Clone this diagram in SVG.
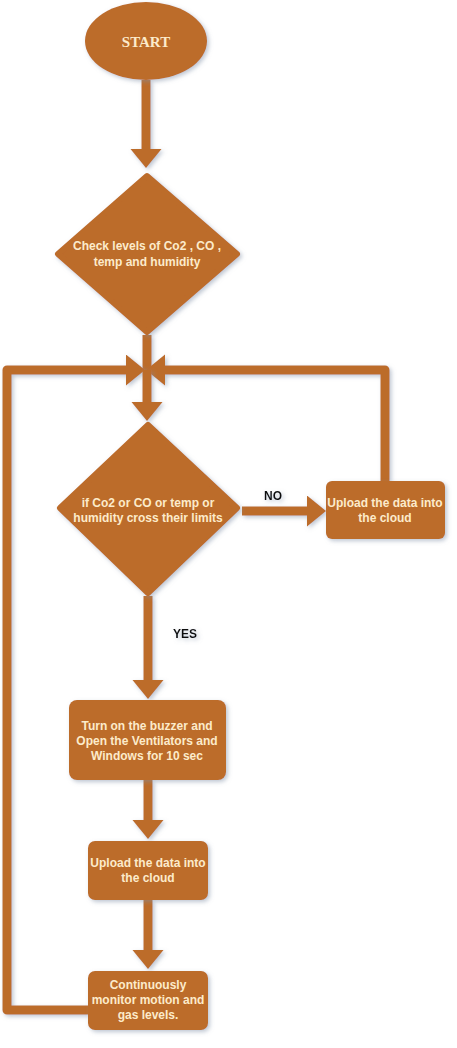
<svg xmlns="http://www.w3.org/2000/svg" width="457" height="1048" viewBox="0 0 457 1048">
<defs>
<filter id="sh" filterUnits="userSpaceOnUse" x="-10" y="-10" width="480" height="1070">
<feDropShadow dx="2" dy="2" stdDeviation="2" flood-color="#7f8fa6" flood-opacity="0.5"/>
</filter>
<marker id="ah" markerUnits="userSpaceOnUse" markerWidth="20" markerHeight="32" refX="0" refY="15.5" orient="auto">
<path d="M0,0 L19,15.5 L0,31 Z" fill="#BC6C2C"/>
</marker>
</defs>
<style>
.n{fill:#BC6C2C;filter:url(#sh)}
.d{fill:#BC6C2C;stroke:#BC6C2C;stroke-width:6;stroke-linejoin:round;filter:url(#sh)}
.t{font-family:"Liberation Sans",Arial,sans-serif;font-weight:bold;font-size:12px;fill:#FCEBCB;text-anchor:middle}
.l{font-family:"Liberation Sans",Arial,sans-serif;font-weight:bold;font-size:12px;fill:#111;text-anchor:middle;filter:url(#sh)}
.c{fill:none;stroke:#BC6C2C;stroke-width:9;stroke-linejoin:round;filter:url(#sh)}
</style>
<g id="connectors">
<path class="c" d="M146,80 V149" marker-end="url(#ah)"/>
<path class="c" d="M147,335 V370"/>
<path class="c" d="M88,1010 H7 V370 H126" marker-end="url(#ah)"/>
<path class="c" d="M385,481 V370 H165" marker-end="url(#ah)"/>
<path class="c" d="M147,370 V402" marker-end="url(#ah)"/>
<path class="c" d="M242,511 H307" marker-end="url(#ah)"/>
<path class="c" d="M148,596 V680" marker-end="url(#ah)"/>
<path class="c" d="M148,780 V820" marker-end="url(#ah)"/>
<path class="c" d="M148,900 V950" marker-end="url(#ah)"/>
<text class="l" x="273" y="500">NO</text>
<text class="l" x="185" y="638">YES</text>
</g>
<g id="start">
<ellipse class="n" cx="146" cy="41" rx="61" ry="39"/>
<text x="146" y="47" style="font-family:'Liberation Serif','Times New Roman',serif;font-weight:bold;font-size:15px;fill:#FCEBCB;text-anchor:middle">START</text>
</g>
<g id="check">
<polygon class="d" points="147,176 237,254 147,332 58,254"/>
<text class="t" x="147" y="250">Check levels of Co2 , CO ,</text>
<text class="t" x="147" y="266">temp and humidity</text>
</g>
<g id="decision">
<polygon class="d" points="148,425 237,508 148,593 60,508"/>
<text class="t" x="148" y="507">if Co2 or CO or temp or</text>
<text class="t" x="148" y="522">humidity cross their limits</text>
</g>
<g id="upload1">
<rect class="n" x="326" y="481" width="119" height="58" rx="6"/>
<text class="t" x="385" y="507">Upload the data into</text>
<text class="t" x="385" y="522">the cloud</text>
</g>
<g id="buzzer">
<rect class="n" x="69" y="700" width="157" height="80" rx="8"/>
<text class="t" x="147" y="730">Turn on the buzzer and</text>
<text class="t" x="147" y="745">Open the Ventilators and</text>
<text class="t" x="147" y="760">Windows for 10 sec</text>
</g>
<g id="upload2">
<rect class="n" x="88" y="841" width="120" height="59" rx="7"/>
<text class="t" x="148" y="867">Upload the data into</text>
<text class="t" x="148" y="882">the cloud</text>
</g>
<g id="monitor">
<rect class="n" x="88" y="971" width="120" height="59" rx="7"/>
<text class="t" x="148" y="989">Continuously</text>
<text class="t" x="148" y="1004">monitor motion and</text>
<text class="t" x="148" y="1019">gas levels.</text>
</g>
</svg>
